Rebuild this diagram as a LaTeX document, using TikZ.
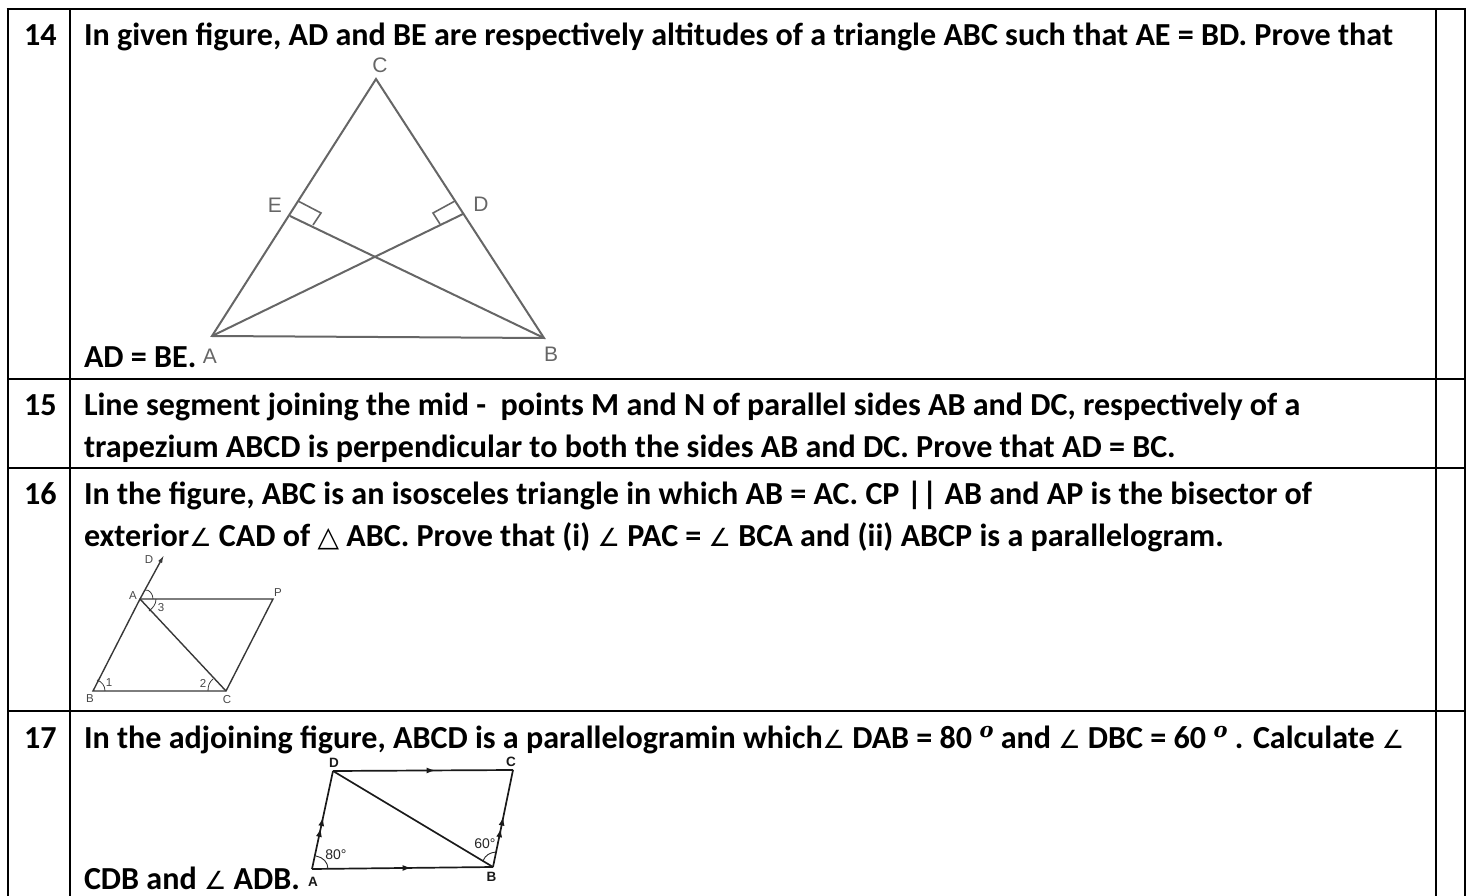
\documentclass[tikz,border=0pt]{standalone}
\usepackage{fontspec}
\setmainfont{Carlito}
\newfontfamily\symfont{DejaVu Sans}
\newfontfamily\serifit{DejaVu Serif}
\newfontfamily\figfont{Liberation Sans}
\usetikzlibrary{arrows.meta,decorations.markings}
\newcommand{\ang}{{\symfont\mdseries\fontsize{25}{30}\selectfont ∠}}
\newcommand{\tri}{{\symfont\mdseries\fontsize{28}{30}\selectfont △}}
\newcommand{\degr}{\raisebox{11pt}{\serifit\itshape\bfseries\fontsize{21}{24}\selectfont o}}
\tikzset{
  x=1pt,y=-1pt,
  rule/.style={line width=2.6pt,black},
  txt/.style={anchor=base west,inner sep=0pt,outer sep=0pt,font=\fontsize{32.1}{38}\bfseries\selectfont},
  figa/.style={line width=2pt,draw=black!60},
  figb/.style={line width=1.4pt,draw=black!78},
  figc/.style={line width=1.7pt,draw=black!90},
  thinb/.style={line width=.8pt,draw=black!78},
  thinc/.style={line width=.9pt,draw=black!85},
  lba/.style={inner sep=0pt,text=black!60,font=\figfont\fontsize{21}{24}\selectfont},
  lbb/.style={inner sep=0pt,text=black!72,font=\figfont\fontsize{11.5}{13}\selectfont},
  lbc/.style={inner sep=0pt,text=black!90,font=\figfont\bfseries\fontsize{13.5}{15}\selectfont},
  lbd/.style={inner sep=0pt,text=black!85,font=\figfont\fontsize{14}{16}\selectfont},
  midarr/.style={postaction={decorate},decoration={markings,mark=at position #1 with {\arrow{Latex[length=9pt,width=6pt]}}}},
  dblarr/.style n args={2}{postaction={decorate},decoration={markings,mark=at position #1 with {\arrow{Latex[length=9pt,width=6pt]}},mark=at position #2 with {\arrow{Latex[length=9pt,width=6pt]}}}}
}
\begin{document}
\begin{tikzpicture}
\useasboundingbox (0,0) rectangle (1470,896);
% table
\draw[rule] (6.7,9) -- (1466.3,9);
\draw[rule] (8,379) -- (1465,379);
\draw[rule] (8,468) -- (1465,468);
\draw[rule] (8,711) -- (1465,711);
\draw[rule] (8,9) -- (8,896);
\draw[rule] (70,9) -- (70,896);
\draw[rule] (1436,9) -- (1436,896);
\draw[rule] (1465,9) -- (1465,896);
% text
\node[txt] (n14) at (24,45.5) {14};
\node[txt] (t14a) at (84,45.5) {In given figure, AD and BE are respectively altitudes of a triangle ABC such that AE = BD. Prove that};
\node[txt] (t14b) at (84,367.5) {AD = BE.};
\node[txt] (n15) at (24,415) {15};
\node[txt] (t15a) at (84,415) {Line segment joining the mid -~ points M and N of parallel sides AB and DC, respectively of a};
\node[txt] (t15b) at (84,457) {trapezium ABCD is perpendicular to both the sides AB and DC. Prove that AD = BC.};
\node[txt] (n16) at (24,504.5) {16};
\node[txt] (t16a) at (84,504.5) {In the figure, ABC is an isosceles triangle in which AB = AC. CP || AB and AP is the bisector of};
\node[txt] (t16b) at (84,546) {exterior\ang{} CAD of \tri{} ABC. Prove that (i) \ang{} PAC = \ang{} BCA and (ii) ABCP is a parallelogram.};
\node[txt] (n17) at (24,748) {17};
\node[txt] (t17a) at (84,748) {In the adjoining figure, ABCD is a parallelogramin which\ang{} DAB = 80 \degr{} and \ang{} DBC = 60 \degr{} . Calculate \ang};
\node[txt] (t17b) at (84,889.5) {CDB and \ang{} ADB.};
% figure 14
\coordinate (A) at (212,336);
\coordinate (B) at (544,338);
\coordinate (C) at (376,79);
\coordinate (D) at (463,214);
\coordinate (E) at (290,216);
\draw[figa] (A) -- (C) -- (B) -- cycle;
\draw[figa] (A) -- (D);
\draw[figa] (B) -- (E);
\draw[figa,line width=1.6pt] (298,201) -- (321,213) -- (313,225);
\draw[figa,line width=1.6pt] (455,201) -- (433,213) -- (440,224);
\node[lba] (lC) at (380,65) {C};
\node[lba] (lE) at (275,205) {E};
\node[lba] (lD) at (481,204) {D};
\node[lba] (lA) at (210,356) {A};
\node[lba] (lB) at (551,354) {B};
% figure 16
\coordinate (a) at (140,599);
\coordinate (b) at (93,691);
\coordinate (c) at (226,691);
\coordinate (p) at (273,599);
\coordinate (d) at (164,555);
\draw[figb] (b) -- (c) -- (p) -- (a) -- cycle;
\draw[figb] (a) -- (c);
\draw[figb,-{Latex[length=8pt,width=4.5pt]}] (a) -- (d);
\draw[thinb] (145,590) to[out=10,in=90] (153,599);
\draw[thinb] (156,599) to[out=-90,in=40] (149,611);
\draw[thinb] (105,691) to[out=90,in=-20] (97,680);
\draw[thinb] (208,691) to[out=90,in=220] (213,679);
\node[lbb] (ld) at (149,560) {D};
\node[lbb] (la) at (133,596) {A};
\node[lbb] (lp) at (278,593) {P};
\node[lbb] (l3) at (161,608) {3};
\node[lbb] (l1) at (109,683) {1};
\node[lbb] (l2) at (203,683) {2};
\node[lbb] (lb) at (90,699) {B};
\node[lbb] (lc) at (227,700) {C};
% figure 17
\coordinate (qa) at (312,869);
\coordinate (qb) at (493,867);
\coordinate (qc) at (513,770);
\coordinate (qd) at (333,771);
\draw[figc,midarr=0.57] (qd) -- (qc);
\draw[figc,midarr=0.55] (qa) -- (qb);
\draw[figc,dblarr={0.42}{0.53}] (qa) -- (qd);
\draw[figc,dblarr={0.40}{0.52}] (qb) -- (qc);
\draw[figc] (qd) -- (qb);
\draw[thinc] (328,869) to[out=90,in=-10] (316,856);
\draw[thinc] (483,861) to[out=70,in=185] (496,852);
\node[lbd] (l80) at (336,855) {80°};
\node[lbd] (l60) at (485,844) {60°};
\node[lbc] (lqa) at (313,882) {A};
\node[lbc] (lqb) at (491.5,877) {B};
\node[lbc] (lqc) at (511,762) {C};
\node[lbc] (lqd) at (334,763) {D};
\end{tikzpicture}
\end{document}
